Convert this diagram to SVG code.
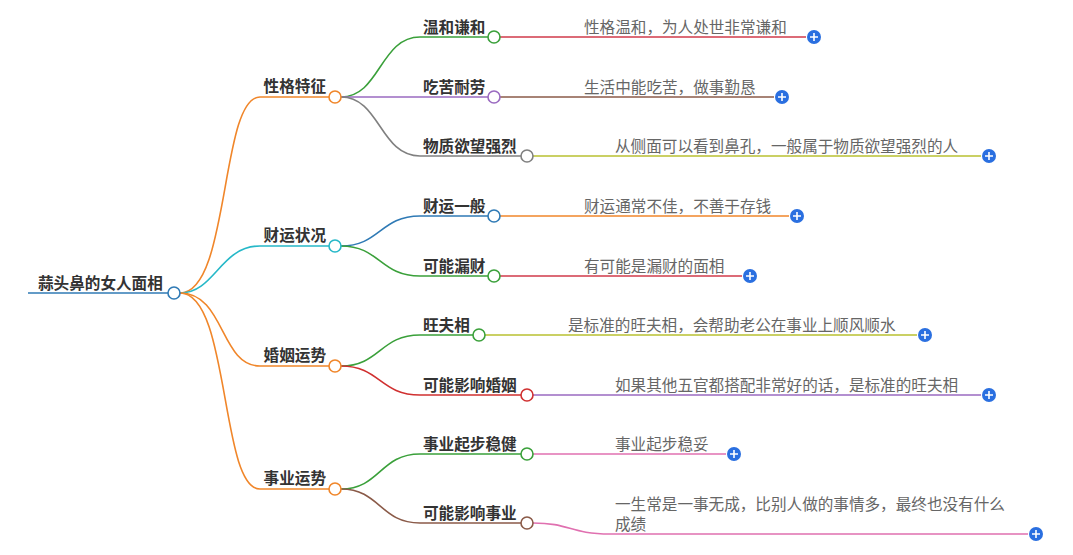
<svg xmlns="http://www.w3.org/2000/svg" width="1073" height="555" viewBox="0 0 1073 555">
<style>
text{font-family:"Noto Sans CJK SC","Liberation Sans",sans-serif}
.n{font-size:15.6px;font-weight:bold;fill:#333}
.l{font-size:15.6px;fill:#666}
path{fill:none;stroke-width:1.6}
.c{fill:#fff;stroke-width:1.6}
.p circle{fill:#2a6fe0}
.p path{stroke:#fff;stroke-width:1.6}
</style>
<rect width="1073" height="555" fill="#fff"/>
<g id="connectors">
<path d="M180,293 C230,293 220,97 260,97 L329,97" stroke="#f0862a"/>
<path d="M180,293 C215,293 220,246 260,246 L329,246" stroke="#26b8c8"/>
<path d="M180,293 C225,293 220,366 260,366 L329,366" stroke="#f0862a"/>
<path d="M180,293 C230,293 220,489 260,489 L329,489" stroke="#f0862a"/>
<path d="M341,97 C380,97 380,37 420,37 L488,37" stroke="#3aa03a"/>
<path d="M341,97 L488,97" stroke="#9a6ac0"/>
<path d="M341,97 C380,97 380,156 420,156 L521,156" stroke="#808080"/>
<path d="M341,246 C380,246 380,216 420,216 L488,216" stroke="#2f7ab5"/>
<path d="M341,246 C380,246 380,276 420,276 L488,276" stroke="#3aa03a"/>
<path d="M341,366 C380,366 380,335 420,335 L473,335" stroke="#3aa03a"/>
<path d="M341,366 C380,366 380,395 420,395 L521,395" stroke="#d03030"/>
<path d="M341,489 C380,489 380,454 420,454 L521,454" stroke="#3aa03a"/>
<path d="M341,489 C380,489 380,523 420,523 L521,523" stroke="#8a5a48"/>
<path d="M500,37 L806,37" stroke="#d03a4a"/>
<path d="M500,97 L774,97" stroke="#8a5a48"/>
<path d="M533,156 L981,156" stroke="#b8c030"/>
<path d="M500,216 L789,216" stroke="#f0862a"/>
<path d="M500,276 L742,276" stroke="#d03a4a"/>
<path d="M485,335 L917,335" stroke="#b8c030"/>
<path d="M533,395 L981,395" stroke="#9a6ac0"/>
<path d="M533,454 L726,454" stroke="#e070b0"/>
<path d="M533,523 C570,523 570,534 610,534 L1028,534" stroke="#e070b0"/>
<path d="M28,293 L168,293" stroke="#2f7ab5" stroke-width="4"/>
</g>
<g id="root"><text x="38" y="289" class="n" font-size="16.5">蒜头鼻的女人面相</text><circle cx="174" cy="293" r="6" class="c" stroke="#2f7ab5"/></g>
<g id="n1"><text x="326" y="92" class="n" text-anchor="end">性格特征</text><circle cx="335" cy="97" r="6" class="c" stroke="#f0862a"/></g>
<g id="n2"><text x="326" y="241" class="n" text-anchor="end">财运状况</text><circle cx="335" cy="246" r="6" class="c" stroke="#26b8c8"/></g>
<g id="n3"><text x="326" y="361" class="n" text-anchor="end">婚姻运势</text><circle cx="335" cy="366" r="6" class="c" stroke="#f0862a"/></g>
<g id="n4"><text x="326" y="484" class="n" text-anchor="end">事业运势</text><circle cx="335" cy="489" r="6" class="c" stroke="#f0862a"/></g>
<g id="a1"><text x="423" y="33" class="n">温和谦和</text><circle cx="494" cy="37" r="6" class="c" stroke="#3aa03a"/></g>
<g id="a2"><text x="423" y="93" class="n">吃苦耐劳</text><circle cx="494" cy="97" r="6" class="c" stroke="#9a6ac0"/></g>
<g id="a3"><text x="423" y="152" class="n">物质欲望强烈</text><circle cx="527" cy="156" r="6" class="c" stroke="#808080"/></g>
<g id="b1"><text x="423" y="212" class="n">财运一般</text><circle cx="494" cy="216" r="6" class="c" stroke="#2f7ab5"/></g>
<g id="b2"><text x="423" y="272" class="n">可能漏财</text><circle cx="494" cy="276" r="6" class="c" stroke="#3aa03a"/></g>
<g id="c1"><text x="423" y="331" class="n">旺夫相</text><circle cx="479" cy="335" r="6" class="c" stroke="#3aa03a"/></g>
<g id="c2"><text x="423" y="391" class="n">可能影响婚姻</text><circle cx="527" cy="395" r="6" class="c" stroke="#d03030"/></g>
<g id="d1"><text x="423" y="450" class="n">事业起步稳健</text><circle cx="527" cy="454" r="6" class="c" stroke="#3aa03a"/></g>
<g id="d2"><text x="423" y="519" class="n">可能影响事业</text><circle cx="527" cy="523" r="6" class="c" stroke="#8a5a48"/></g>
<g id="leaves">
<text x="584" y="33" class="l">性格温和，为人处世非常谦和</text>
<text x="584" y="93" class="l">生活中能吃苦，做事勤恳</text>
<text x="615" y="152" class="l">从侧面可以看到鼻孔，一般属于物质欲望强烈的人</text>
<text x="584" y="212" class="l">财运通常不佳，不善于存钱</text>
<text x="584" y="272" class="l">有可能是漏财的面相</text>
<text x="568" y="331" class="l">是标准的旺夫相，会帮助老公在事业上顺风顺水</text>
<text x="615" y="391" class="l">如果其他五官都搭配非常好的话，是标准的旺夫相</text>
<text x="615" y="450" class="l">事业起步稳妥</text>
<text x="615" y="510" class="l">一生常是一事无成，比别人做的事情多，最终也没有什么</text>
<text x="615" y="530" class="l">成绩</text>
</g>
<g class="p" id="plus">
<g transform="translate(814,37)"><circle r="7"/><path d="M-4,0H4M0,-4V4"/></g>
<g transform="translate(782,97)"><circle r="7"/><path d="M-4,0H4M0,-4V4"/></g>
<g transform="translate(989,156)"><circle r="7"/><path d="M-4,0H4M0,-4V4"/></g>
<g transform="translate(797,216)"><circle r="7"/><path d="M-4,0H4M0,-4V4"/></g>
<g transform="translate(750,276)"><circle r="7"/><path d="M-4,0H4M0,-4V4"/></g>
<g transform="translate(925,335)"><circle r="7"/><path d="M-4,0H4M0,-4V4"/></g>
<g transform="translate(989,395)"><circle r="7"/><path d="M-4,0H4M0,-4V4"/></g>
<g transform="translate(734,454)"><circle r="7"/><path d="M-4,0H4M0,-4V4"/></g>
<g transform="translate(1036,534)"><circle r="7"/><path d="M-4,0H4M0,-4V4"/></g>
</g>
</svg>
